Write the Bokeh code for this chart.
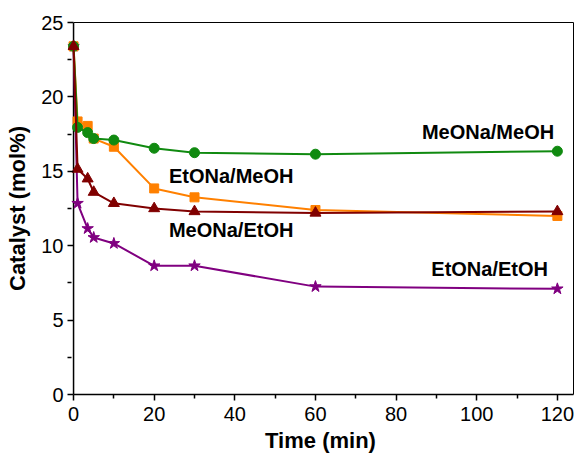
from bokeh.plotting import figure
from bokeh.models import Range1d, LinearAxis, FixedTicker, ColumnDataSource, Span
from bokeh.embed import file_html
from bokeh.resources import INLINE
from bokeh.core.properties import value

# ---- data ----
time_min = [0, 1, 3.5, 5, 10, 20, 30, 60, 120]
meona_meoh = [23.4, 17.95, 17.6, 17.2, 17.1, 16.55, 16.25, 16.15, 16.35]
etona_meoh = [23.4, 18.35, 18.05, 17.2, 16.65, 13.85, 13.25, 12.4, 12.0]
meona_etoh = [23.4, 15.15, 14.5, 13.6, 12.85, 12.5, 12.3, 12.2, 12.3]
etona_etoh = [23.4, 12.85, 11.15, 10.55, 10.15, 8.65, 8.65, 7.25, 7.1]

series_names = ["MeONa/MeOH", "EtONa/MeOH", "MeONa/EtOH", "EtONa/EtOH"]
label_x = [102.8, 39.1, 39.1, 103.2]
label_y = [17.67, 14.66, 11.07, 8.46]

x_ticks = [0, 20, 40, 60, 80, 100, 120]
x_minor = [10, 30, 50, 70, 90, 110]
y_ticks = [0, 5, 10, 15, 20, 25]
y_minor = [2.5, 7.5, 12.5, 17.5, 22.5]

FONT = "Liberation Sans"

p = figure(width=578, height=455,
           x_range=Range1d(-1.5, 124), y_range=Range1d(0, 25),
           output_backend="svg", toolbar_location=None,
           min_border_left=67, min_border_right=5,
           min_border_top=22, min_border_bottom=58)
p.outline_line_color = None
p.xgrid.grid_line_color = None
p.ygrid.grid_line_color = None
p.background_fill_color = "white"
p.border_fill_color = "white"

for ax in (p.xaxis[0], p.yaxis[0]):
    ax.axis_line_color = "black"
    ax.axis_line_width = 1.5
    ax.major_tick_line_color = "black"
    ax.minor_tick_line_color = "black"
    ax.major_tick_line_width = 1.5
    ax.minor_tick_line_width = 1.5
    ax.major_label_text_font = FONT
    ax.major_label_text_font_size = "20px"
    ax.major_label_text_color = "black"
    ax.axis_label_text_font = FONT
    ax.axis_label_text_font_size = "22px"
    ax.axis_label_text_font_style = "bold"
    ax.axis_label_text_color = "black"

xa = p.xaxis[0]
xa.ticker = FixedTicker(ticks=x_ticks, minor_ticks=x_minor)
xa.bounds = (0, 124)
xa.axis_label = "Time (min)"
xa.major_tick_in = 0
xa.major_tick_out = 6
xa.minor_tick_in = 0
xa.minor_tick_out = 4
xa.major_label_standoff = 6
xa.axis_label_standoff = 4

# left axis sits at the frame edge; its visible line is drawn at x = 0
ya = p.yaxis[0]
ya.ticker = FixedTicker(ticks=y_ticks, minor_ticks=y_minor)
ya.axis_label = "Catalyst (mol%)"
ya.axis_line_color = None
ya.major_tick_in = 6
ya.major_tick_out = 0
ya.minor_tick_in = 4
ya.minor_tick_out = 0
ya.major_label_standoff = 4
ya.axis_label_standoff = 8

p.add_layout(Span(location=0, dimension="height", line_color="black",
                  line_width=1.5, level="underlay"))

# frame top and right lines
top_ax = LinearAxis(ticker=FixedTicker(ticks=[]), bounds=(0, 124),
                    axis_line_color="black", axis_line_width=1,
                    major_tick_out=0, minor_tick_out=0,
                    major_label_text_font_size="0px")
p.add_layout(top_ax, "above")
right_ax = LinearAxis(ticker=FixedTicker(ticks=[]),
                      axis_line_color="black", axis_line_width=1,
                      major_tick_out=0, minor_tick_out=0,
                      major_label_text_font_size="0px")
p.add_layout(right_ax, "right")

src = ColumnDataSource(dict(t=time_min, a=meona_meoh, b=etona_meoh,
                            c=meona_etoh, d=etona_etoh))

PURPLE = "#800080"
ORANGE = "#FF8000"
GREEN = "#108A10"
WINE = "#800000"

p.line("t", "d", source=src, color=PURPLE, line_width=2)
p.scatter("t", "d", source=src, marker="star", size=12, color=PURPLE)
p.line("t", "b", source=src, color=ORANGE, line_width=2)
p.scatter("t", "b", source=src, marker="square", size=9, color=ORANGE)
p.line("t", "a", source=src, color=GREEN, line_width=2)
p.scatter("t", "a", source=src, marker="circle", size=10, color=GREEN)
p.line("t", "c", source=src, color=WINE, line_width=2)
p.scatter("t", "c", source=src, marker="triangle", size=11, color=WINE)

p.text(x=label_x, y=label_y, text=series_names,
       text_font=value(FONT), text_font_style="bold", text_font_size="20px",
       text_align="center", text_baseline="middle", text_color="black")

open("out.html", "w").write(file_html(p, INLINE))
